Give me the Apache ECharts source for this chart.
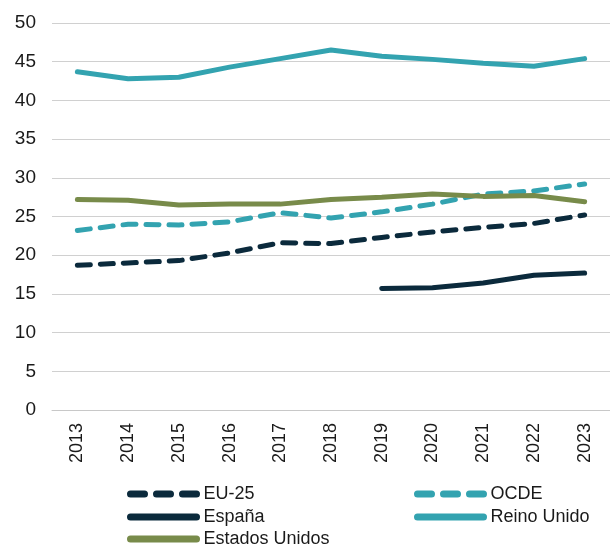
<!DOCTYPE html>
<html>
<head>
<meta charset="utf-8">
<script src="https://cdn.jsdelivr.net/npm/echarts@6/dist/echarts.min.js"></script>
<style>
  html, body { margin: 0; padding: 0; background: #fff; }
  #chart { width: 610px; height: 546px; }
</style>
</head>
<body>
<div id="chart"></div>
<script>
var years = ['2013','2014','2015','2016','2017','2018','2019','2020','2021','2022','2023'];
var eu25 = [18.7, 19.0, 19.3, 20.3, 21.6, 21.5, 22.3, 23.0, 23.6, 24.1, 25.2];
var ocde = [23.2, 24.0, 23.9, 24.3, 25.5, 24.8, 25.6, 26.6, 27.9, 28.3, 29.2];
var espana = [null, null, null, null, null, null, 15.7, 15.8, 16.4, 17.4, 17.7];
var reinoUnido = [43.7, 42.8, 43.0, 44.3, 45.4, 46.5, 45.7, 45.3, 44.8, 44.4, 45.4];
var estadosUnidos = [27.2, 27.1, 26.5, 26.6, 26.6, 27.2, 27.5, 27.9, 27.6, 27.7, 26.9];

var dark = '#0b2a3c',
    teal = '#33a3b0',
    olive = '#788b4a',
    font = 'Liberation Sans';

function serie(name, data, color, dashed){
    return {
        name: name,
        type: 'line',
        data: data,
        symbol: 'none',
        connectNulls: false,
        lineStyle: {
            color: color,
            width: 5,
            type: dashed ? [13, 10] : 'solid',
            cap: 'round'
        },
        itemStyle: { color: color }
    };
}

// one legend per entry, placed by hand like the original
function leyenda(name, left, top, dashed){
    return {
        data: [name],
        left: left,
        top: top,
        itemWidth: 66,
        itemHeight: 14,
        itemGap: 0,
        itemStyle: { opacity: 0 },
        lineStyle: { width: 7, cap: 'round', type: dashed ? [14, 12] : 'solid' },
        textStyle: { fontFamily: font, fontSize: 18, color: '#1a1a1a', padding: [0, 0, 0, 2] }
    };
}

echarts.init(document.getElementById('chart')).setOption({
    animation: false,
    grid: {
        left: 52,
        right: 0,
        top: 23,
        bottom: 136
    },
    legend: [
        leyenda('EU-25', 122, 480, true),
        leyenda('España', 122, 503, false),
        leyenda('Estados Unidos', 122, 525, false),
        leyenda('OCDE', 409, 480, true),
        leyenda('Reino Unido', 409, 503, false)
    ],
    xAxis: {
        type: 'category',
        data: years,
        boundaryGap: true,
        axisTick: { show: false },
        axisLine: { lineStyle: { color: '#c8c8c8', width: 1 } },
        axisLabel: {
            rotate: 90,
            margin: 13,
            fontFamily: font,
            fontSize: 18,
            color: '#1a1a1a'
        }
    },
    yAxis: {
        type: 'value',
        min: 0,
        max: 50,
        interval: 5,
        axisLine: { show: false },
        axisTick: { show: false },
        splitLine: { lineStyle: { color: '#d0d0d0', width: 1 } },
        axisLabel: {
            margin: 16,
            fontFamily: font,
            fontSize: 19,
            color: '#1a1a1a'
        }
    },
    series: [
        serie('EU-25', eu25, dark, true),
        serie('OCDE', ocde, teal, true),
        serie('España', espana, dark, false),
        serie('Reino Unido', reinoUnido, teal, false),
        serie('Estados Unidos', estadosUnidos, olive, false)
    ]
});
</script>
</body>
</html>
